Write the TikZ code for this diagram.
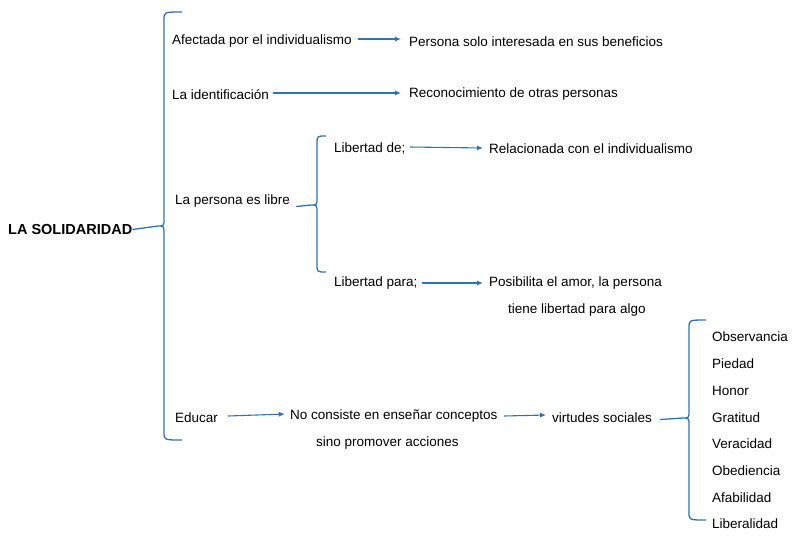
\documentclass[tikz,border=0pt]{standalone}
\usepackage{fontspec}
\setmainfont{Liberation Sans}
\usetikzlibrary{arrows.meta}
\definecolor{bl}{HTML}{2E74B5}
\newcommand\mybrace[5]{% x, ytop, ybot, ymid, width
  \draw[brace] (#1+#5,#2) .. controls (#1,#2) .. (#1,#2+8) -- (#1,#4-8) .. controls (#1,#4) .. (#1-6,#4)
   .. controls (#1,#4) .. (#1,#4+8) -- (#1,#3-8) .. controls (#1,#3) .. (#1+#5,#3);}
\tikzset{brace/.style={draw=bl,line width=1.3pt},
 arr/.style={draw=bl,line width=1.1pt,-{Latex[length=6pt,width=5pt]}},
 t/.style={anchor=west,inner sep=0pt,yshift=-1.5pt,font=\fontsize{13.5}{15}\selectfont}}
\begin{document}
\begin{tikzpicture}[x=1pt,y=-1pt]
\useasboundingbox (0,0) rectangle (799,549);
\node[t,font=\fontsize{14.5}{16}\selectfont\bfseries] (sol) at (8,228) {LA SOLIDARIDAD};
\mybrace{164}{12}{440}{226}{18}
\coordinate (b1) at (158,226);
\draw[brace] (sol.east) -- (b1);
\node[t] (a1) at (172,40) {Afectada por el individualismo};
\node[t] (a2) at (409,40) {Persona solo interesada en sus beneficios};
\node[t] (c1) at (172,93) {La identificación};
\node[t] (c2) at (409,93) {Reconocimiento de otras personas};
\node[t] (p) at (175,200) {La persona es libre};
\mybrace{317}{136}{272}{205}{9}
\coordinate (b2) at (311,205);
\draw[brace] (p.east)++(6,5) -- (b2);
\node[t] (d1) at (334,147) {Libertad de;};
\node[t] (d2) at (489,147) {Relacionada con el individualismo};
\node[t] (e1) at (334,282) {Libertad para;};
\node[t] (e2) at (489,282) {Posibilita el amor, la persona};
\node[t] (e3) at (508,309) {tiene libertad para algo};
\node[t] (f1) at (175,416) {Educar};
\node[t] (f2) at (290,415) {No consiste en enseñar conceptos};
\node[t] (f3) at (316,441) {sino promover acciones};
\node[t] (f4) at (552,416) {virtudes sociales};
\mybrace{689}{320}{520}{418}{17}
\coordinate (b3) at (683,418);
\draw[brace] (f4.east)++(8,2) -- (b3);
\coordinate (x1) at (358,39); \coordinate (x2) at (401,39);
\coordinate (y1) at (273,93); \coordinate (y2) at (401,93);
\coordinate (z1) at (410,147); \coordinate (z2) at (483,148);
\coordinate (w1) at (422,283); \coordinate (w2) at (483,283);
\coordinate (u1) at (228,416); \coordinate (u2) at (285,414);
\coordinate (v1) at (504,416); \coordinate (v2) at (546,415);
\foreach \a/\b in {x1/x2,y1/y2,z1/z2,w1/w2,u1/u2,v1/v2} \draw[arr] (\a) -- (\b);
\foreach \n/\y in {Observancia/335,Piedad/362,Honor/389,Gratitud/416,Veracidad/442,Obediencia/469,Afabilidad/496,Liberalidad/522}
  \node[t] (l\n) at (712,\y) {\n};
\end{tikzpicture}
\end{document}
